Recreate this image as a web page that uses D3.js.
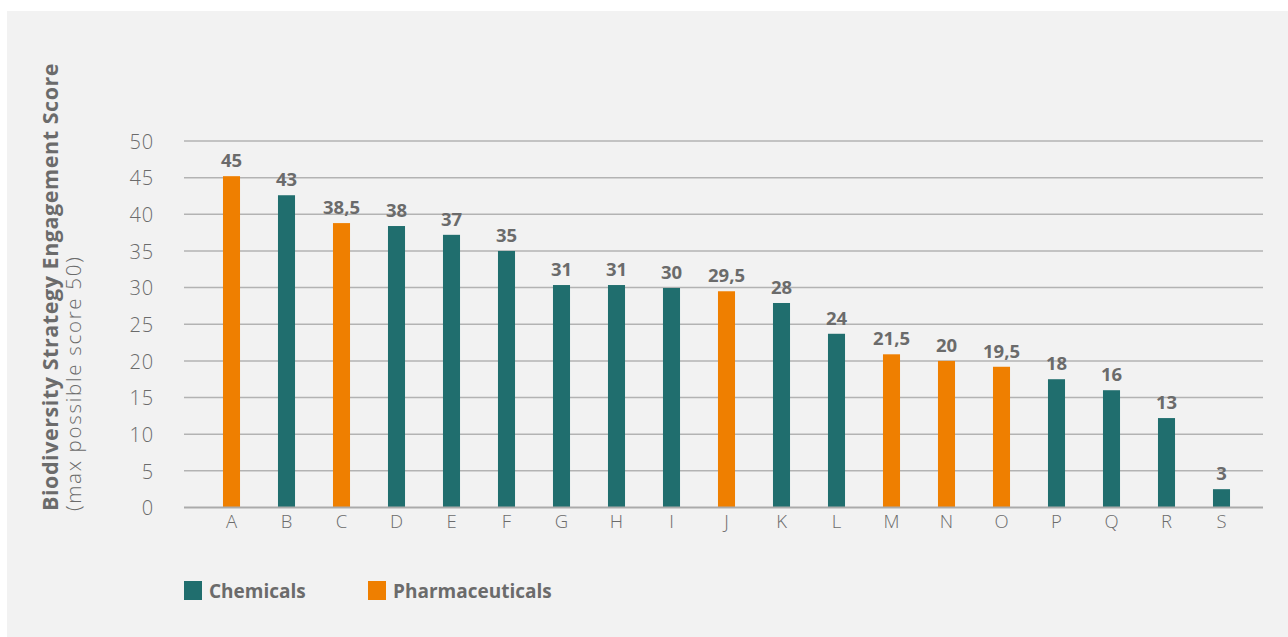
<!DOCTYPE html>
<html><head><meta charset="utf-8">
<script src="https://cdn.jsdelivr.net/npm/d3@7"></script>
<style>
html,body{margin:0;padding:0;background:#fff;}
svg{display:block;}
</style></head>
<body>
<svg id="chart" width="1288" height="637"></svg>
<script>
const categories = ["A","B","C","D","E","F","G","H","I","J","K","L","M","N","O","P","Q","R","S"];
const sectors = ["Pharmaceuticals","Chemicals","Pharmaceuticals","Chemicals","Chemicals","Chemicals","Chemicals","Chemicals","Chemicals","Pharmaceuticals","Chemicals","Chemicals","Pharmaceuticals","Pharmaceuticals","Pharmaceuticals","Chemicals","Chemicals","Chemicals","Chemicals"];
const barValues = [45.2, 42.6, 38.8, 38.4, 37.2, 35.0, 30.35, 30.35, 29.95, 29.5, 27.9, 23.7, 20.9, 20.0, 19.2, 17.5, 16.0, 12.2, 2.5];
const valueLabels = ["45","43","38,5","38","37","35","31","31","30","29,5","28","24","21,5","20","19,5","18","16","13","3"];
const yTicks = [0,5,10,15,20,25,30,35,40,45,50];
const legendItems = ["Chemicals","Pharmaceuticals"];

const colors = {"Chemicals":"#206e6e","Pharmaceuticals":"#ef7f00"};
const textGray = "#6b6b6b";
const font = "'Open Sans', Lato, sans-serif";

const svg = d3.select("#chart");
svg.append("rect").attr("x",7).attr("y",11).attr("width",1281).attr("height",626).attr("fill","#f2f2f2");

const y = d3.scaleLinear().domain([0,50]).range([507.5,141]);
const x = d3.scaleBand().domain(categories).range([204,1249]).paddingInner(0.69).paddingOuter(0.345);

const gridX0 = 184, gridX1 = 1263;

svg.append("g").selectAll("line").data(yTicks.filter(t=>t>0)).join("line")
  .attr("x1",gridX0).attr("x2",gridX1)
  .attr("y1",d=>y(d)).attr("y2",d=>y(d))
  .attr("stroke","#b3b3b3").attr("stroke-width",1.5);

const yAxis = d3.axisLeft(y).tickValues(yTicks).tickSize(0).tickPadding(0);
const gy = svg.append("g").attr("transform","translate(154,0)").call(yAxis);
gy.select(".domain").remove();
gy.selectAll("text").attr("font-family",font).attr("font-weight",300).attr("font-size",20)
  .attr("letter-spacing",0.8)
  .attr("fill",textGray).attr("dy","0.36em");

svg.append("g").selectAll("rect").data(categories).join("rect")
  .attr("x",d=>x(d)).attr("width",x.bandwidth())
  .attr("y",(d,i)=>y(barValues[i]))
  .attr("height",(d,i)=>y(0)-y(barValues[i]))
  .attr("fill",(d,i)=>colors[sectors[i]]);

svg.append("line").attr("x1",gridX0).attr("x2",gridX1).attr("y1",y(0)).attr("y2",y(0))
  .attr("stroke","#ababab").attr("stroke-width",2);

svg.append("g").selectAll("text").data(categories).join("text")
  .attr("x",d=>x(d)+x.bandwidth()/2)
  .attr("y",(d,i)=>y(barValues[i])-9)
  .attr("text-anchor","middle")
  .attr("font-family",font).attr("font-weight",700).attr("font-size",18.5)
  .attr("fill",textGray)
  .text((d,i)=>valueLabels[i]);

const xAxis = d3.axisBottom(x).tickSize(0).tickPadding(0);
const gx = svg.append("g").attr("transform","translate(0,514)").call(xAxis);
gx.select(".domain").remove();
gx.selectAll("text").attr("font-family",font).attr("font-weight",300).attr("font-size",18.5)
  .attr("fill",textGray).attr("dy","0.73em");

const title = svg.append("text").attr("transform","translate(58,511) rotate(-90)")
  .attr("font-family",font).attr("fill",textGray);
title.append("tspan").attr("x",0).attr("y",0).attr("font-weight",700).attr("font-size",21.5)
  .attr("letter-spacing",0.55)
  .text("Biodiversity Strategy Engagement Score");
title.append("tspan").attr("x",0).attr("y",23).attr("font-weight",300).attr("font-size",20.5)
  .attr("letter-spacing",1.7)
  .text("(max possible score 50)");

const lg = svg.append("g").selectAll("g").data(legendItems).join("g")
  .attr("transform",(d,i)=>`translate(${i===0?184:368},581)`);
lg.append("rect").attr("width",18).attr("height",19).attr("fill",d=>colors[d]);
lg.append("text").attr("x",25).attr("y",16.5)
  .attr("font-family",font).attr("font-weight",700).attr("font-size",19)
  .attr("fill",textGray).text(d=>d);
</script>
</body></html>
